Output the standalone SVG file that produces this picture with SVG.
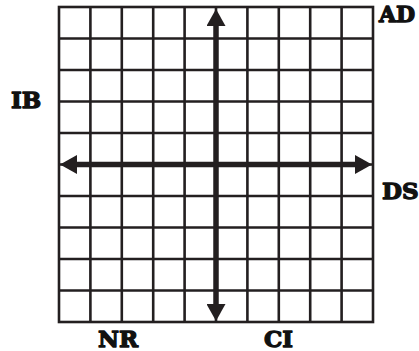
<svg xmlns="http://www.w3.org/2000/svg" width="419" height="351" viewBox="0 0 419 351">
  <style>
    .grid { stroke: #231f20; stroke-width: 2.6; fill: none; }
    .axis { stroke: #231f20; stroke-width: 5.5; fill: none; }
    .lbl { font-family: "DejaVu Serif", "Liberation Serif", serif; font-weight: bold; font-size: 23px; fill: #111; stroke: #111; stroke-width: 1.3; stroke-linejoin: round; }
  </style>
  <defs>
    <marker id="ah" markerUnits="userSpaceOnUse" markerWidth="18" markerHeight="19" refX="1" refY="9.5" orient="auto-start-reverse" viewBox="0 0 18 19">
      <path d="M0,0 L17,9.5 L0,19 z" fill="#231f20"/>
    </marker>
  </defs>
  <rect width="419" height="351" fill="#fff"/>
  <g id="grid" class="grid">
    <rect x="59" y="7" width="314" height="315"/>
    <path d="M90.4,7V322 M121.8,7V322 M153.2,7V322 M184.6,7V322 M216,7V322 M247.4,7V322 M278.8,7V322 M310.2,7V322 M341.6,7V322"/>
    <path d="M59,38.5H373 M59,70H373 M59,101.5H373 M59,133H373 M59,164.5H373 M59,196H373 M59,227.5H373 M59,259H373 M59,290.5H373"/>
  </g>
  <g id="connectors">
    <line class="axis" x1="76" y1="164.5" x2="356" y2="164.5" marker-start="url(#ah)" marker-end="url(#ah)"/>
    <line class="axis" x1="216" y1="25" x2="216" y2="305" marker-start="url(#ah)" marker-end="url(#ah)"/>
  </g>
  <g id="label-AD"><text class="lbl" x="379" y="22" style="font-size:22px">AD</text></g>
  <g id="label-IB"><text class="lbl" x="11" y="108">IB</text></g>
  <g id="label-DS"><text class="lbl" x="382" y="199">DS</text></g>
  <g id="label-NR"><text class="lbl" x="98" y="347">NR</text></g>
  <g id="label-CI"><text class="lbl" x="264" y="347">CI</text></g>
</svg>
